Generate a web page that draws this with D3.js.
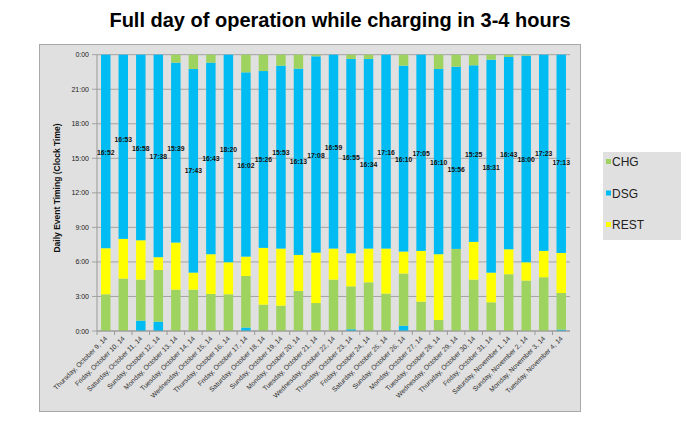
<!DOCTYPE html>
<html>
<head>
<meta charset="utf-8">
<script src="https://cdn.jsdelivr.net/npm/d3@7"></script>
<style>
  body { margin: 0; background: #fff; }
  svg { display: block; font-family: "Liberation Sans", Arial, sans-serif; }
</style>
</head>
<body>
<svg id="Chart" width="685" height="428"></svg>
<script>
// one bar per day, stacked from midnight upward (hours)
var days = ["Thursday, October 9, 14", "Friday, October 10, 14", "Saturday, October 11, 14",
  "Sunday, October 12, 14", "Monday, October 13, 14", "Tuesday, October 14, 14",
  "Wednesday, October 15, 14", "Thursday, October 16, 14", "Friday, October 17, 14",
  "Saturday, October 18, 14", "Sunday, October 19, 14", "Monday, October 20, 14",
  "Tuesday, October 21, 14", "Wednesday, October 22, 14", "Thursday, October 23, 14",
  "Friday, October 24, 14", "Saturday, October 25, 14", "Sunday, October 26, 14",
  "Monday, October 27, 14", "Tuesday, October 28, 14", "Wednesday, October 29, 14",
  "Thursday, October 30, 14", "Friday, October 31, 14", "Saturday, November 1, 14",
  "Sunday, November 2, 14", "Monday, November 3, 14", "Tuesday, November 4, 14"];

var dsgEarly = [0, 0, 0.9, 0.81, 0, 0, 0, 0, 0.3, 0, 0, 0, 0, 0, 0.15, 0, 0, 0.46, 0, 0, 0, 0, 0, 0, 0, 0, 0.12];
var chgNight = [3.19, 4.55, 3.56, 4.49, 3.59, 3.59, 3.22, 3.19, 4.48, 2.29, 2.2, 3.48, 2.43, 4.46,
  3.73, 4.23, 3.25, 4.53, 2.55, 0.96, 7.13, 4.46, 2.49, 4.93, 4.38, 4.67, 3.18];
var rest = [4.0, 3.45, 3.42, 1.11, 4.09, 1.48, 3.45, 2.78, 1.68, 4.93, 4.96, 3.13, 4.38, 2.7,
  2.87, 2.93, 3.91, 1.91, 4.41, 5.71, 0, 3.28, 2.58, 2.17, 1.59, 2.29, 3.48];
var dsgDay = [16.81, 16.0, 16.12, 17.59, 15.63, 17.69, 16.64, 18.03, 16.01, 15.36, 15.89, 16.18, 17.05, 16.84,
  16.88, 16.47, 16.84, 16.15, 17.04, 16.09, 15.83, 15.34, 18.5, 16.7, 17.95, 17.04, 17.22];
var chgLate = [0, 0, 0, 0, 0.69, 1.24, 0.69, 0, 1.53, 1.42, 0.95, 1.21, 0.14, 0,
  0.37, 0.37, 0, 0.95, 0, 1.24, 1.04, 0.92, 0.43, 0.2, 0.08, 0, 0];

// discharge duration labels and the clock time where each one sits
var dsgLabels = ["16:52", "16:53", "16:58", "17:38", "15:39", "17:43", "16:43", "18:20", "16:02",
  "15:26", "15:53", "16:13", "17:08", "16:59", "16:55", "16:34", "17:16", "16:10", "17:05",
  "16:10", "15:56", "15:25", "18:31", "16:43", "18:00", "17:23", "17:13"];
var labelAt = [15.5, 16.67, 15.88, 15.16, 15.88, 13.91, 14.96, 15.74, 14.35, 14.93, 15.53, 14.7, 15.25,
  15.97, 15.07, 14.49, 15.5, 14.93, 15.42, 14.67, 14.0, 15.33, 14.23, 15.36, 14.93, 15.42, 14.67];

var yTicks = [0, 3, 6, 9, 12, 15, 18, 21, 24];
var series = ["dsgEarly", "chgNight", "rest", "dsgDay", "chgLate"];
var legendItems = ["CHG", "DSG", "REST"];

var colours = { CHG: "#9fd35f", DSG: "#00bcf2", REST: "#ffff00" };
var seriesColour = { dsgEarly: colours.DSG, chgNight: colours.CHG, rest: colours.REST,
  dsgDay: colours.DSG, chgLate: colours.CHG };

var table = days.map((d, i) => ({
  day: d, dsgEarly: dsgEarly[i], chgNight: chgNight[i], rest: rest[i],
  dsgDay: dsgDay[i], chgLate: chgLate[i], label: dsgLabels[i], at: labelAt[i]
}));

var svg = d3.select("#Chart");

// frame
svg.append("rect").attr("x", 39.5).attr("y", 44.5).attr("width", 541).attr("height", 367)
  .attr("fill", "#e0e0e0").attr("stroke", "#a8a8a8");

svg.append("text").attr("x", 340).attr("y", 27).attr("text-anchor", "middle")
  .attr("font-size", 20).attr("font-weight", "bold").attr("fill", "#000")
  .text("Full day of operation while charging in 3-4 hours");

var plotLeft = 97, plotRight = 570, plotTop = 54.7, plotBottom = 331;
var x = d3.scaleBand().domain(days).range([plotLeft, plotRight]).paddingInner(0.46).paddingOuter(0.23);
var y = d3.scaleLinear().domain([0, 24]).range([plotBottom, plotTop]);

// gridlines
svg.append("g").selectAll("line").data(yTicks).join("line")
  .attr("x1", plotLeft - 5).attr("x2", plotRight)
  .attr("y1", d => y(d)).attr("y2", d => y(d))
  .attr("stroke", "#a3a3a3").attr("stroke-width", 1);

svg.append("g").selectAll("text").data(yTicks).join("text")
  .attr("x", plotLeft - 8).attr("y", d => y(d) + 2.5)
  .attr("text-anchor", "end").attr("font-size", 7).attr("fill", "#222")
  .text(d => (d % 24) + ":00");

svg.append("text")
  .attr("transform", "translate(60,188) rotate(-90)")
  .attr("text-anchor", "middle").attr("font-size", 8.5).attr("font-weight", "bold")
  .attr("fill", "#111").text("Daily Event Timing (Clock Time)");

// stacked bars
var stack = d3.stack().keys(series)(table);
svg.append("g").selectAll("g").data(stack).join("g")
  .attr("fill", s => seriesColour[s.key])
  .selectAll("rect").data(s => s).join("rect")
  .attr("x", d => x(d.data.day))
  .attr("width", x.bandwidth())
  .attr("y", d => y(d[1]))
  .attr("height", d => y(d[0]) - y(d[1]));

// axes lines
svg.append("line").attr("x1", plotLeft).attr("x2", plotLeft).attr("y1", plotTop).attr("y2", plotBottom)
  .attr("stroke", "#999");
svg.append("line").attr("x1", plotLeft).attr("x2", plotRight).attr("y1", plotBottom).attr("y2", plotBottom)
  .attr("stroke", "#999");
var step = x.step();
svg.append("g").selectAll("line").data(days).join("line")
  .attr("x1", d => x(d) - step * 0.23).attr("x2", d => x(d) - step * 0.23)
  .attr("y1", plotBottom).attr("y2", plotBottom + 4).attr("stroke", "#999");

// day labels
svg.append("g").selectAll("text").data(days).join("text")
  .attr("transform", d => "translate(" + (x(d) + x.bandwidth() / 2 + 2) + "," + (plotBottom + 8) + ") rotate(-45)")
  .attr("text-anchor", "end").attr("font-size", 6.8).attr("fill", "#333")
  .text(d => d);

// discharge labels
svg.append("g").selectAll("text").data(table).join("text")
  .attr("x", d => x(d.day) + x.bandwidth() / 2)
  .attr("y", d => y(d.at) + 2.5)
  .attr("text-anchor", "middle").attr("font-size", 6.8).attr("font-weight", "bold")
  .attr("fill", "#111").text(d => d.label);

// legend
var legend = svg.append("g");
legend.append("rect").attr("x", 603).attr("y", 152).attr("width", 78).attr("height", 88)
  .attr("fill", "#e0e0e0");
var items = legend.selectAll("g").data(legendItems).join("g")
  .attr("transform", (d, i) => "translate(606," + (166 + i * 31.5) + ")");
items.append("rect").attr("x", 0).attr("y", -7).attr("width", 5).attr("height", 5)
  .attr("fill", d => colours[d]);
items.append("text").attr("x", 6).attr("y", 0).attr("font-size", 12).attr("fill", "#222")
  .text(d => d);
</script>
</body>
</html>
